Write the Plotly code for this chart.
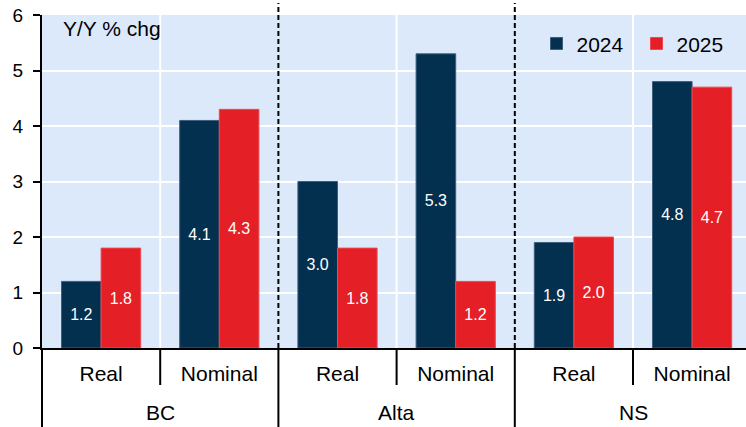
import plotly.graph_objects as go

# Provincial GDP outlook, year-over-year % change
provinces = ["BC", "Alta", "NS"]
measures = ["Real", "Nominal"]
years = ["2024", "2025"]
values_2024 = [1.2, 4.1, 3.0, 5.3, 1.9, 4.8]
values_2025 = [1.8, 4.3, 1.8, 1.2, 2.0, 4.7]

# one category per province/measure pair
cat_keys = [f"{p} {m}" for p in provinces for m in measures]
cat_text = [m for p in provinces for m in measures]

NAVY = "#03304F"
RED = "#E41F26"
BG = "#DCE9FB"
FONT = "Liberation Sans, Arial, sans-serif"

W, H = 746, 427
M_L, M_R, M_T, M_B = 42, 0, 15, 79
X_RANGE = [-0.5, 5.456]

fig = go.Figure()
for name, vals, color, edge in [
    (years[0], values_2024, NAVY, "#3E5E7C"),
    (years[1], values_2025, RED, "#EA4A50"),
]:
    fig.add_trace(go.Bar(
        name=name,
        x=cat_keys,
        y=vals,
        marker=dict(color=color, line=dict(color=edge, width=1)),
        texttemplate="%{y:.1f}",
        textposition="inside",
        insidetextanchor="middle",
        textangle=0,
        textfont=dict(color="white", size=16, family=FONT),
        hoverinfo="skip",
    ))


def xfrac(v):
    """Convert a category position to a fraction of the x-axis domain."""
    return (v - X_RANGE[0]) / (X_RANGE[1] - X_RANGE[0])


plot_h = H - M_T - M_B
below = -(M_B) / plot_h  # reach down to the bottom of the canvas

shapes = []
# white separators between Real and Nominal within each province
for b in [0.5, 2.5, 4.5]:
    shapes.append(dict(type="line", xref="x domain", yref="y domain",
                       x0=xfrac(b), x1=xfrac(b), y0=0, y1=1,
                       line=dict(color="white", width=2), layer="below"))
# short tick marks between the inner labels
for b in [0.5, 2.5, 4.5]:
    shapes.append(dict(type="line", xref="x domain", yref="paper",
                       x0=xfrac(b), x1=xfrac(b), y0=0, y1=-37 / plot_h,
                       line=dict(color="black", width=2)))
# long dividers between provinces (and left edge)
for b in [-0.5, 1.5, 3.5]:
    shapes.append(dict(type="line", xref="x domain", yref="paper",
                       x0=xfrac(b), x1=xfrac(b), y0=0, y1=below,
                       line=dict(color="black", width=2)))
# dashed province boundaries inside the plot
for b in [1.5, 3.5]:
    shapes.append(dict(type="line", xref="x domain", yref="paper",
                       x0=xfrac(b), x1=xfrac(b), y0=0, y1=1 + 12 / plot_h,
                       line=dict(color="black", width=2, dash="5px,3px")))

annotations = [dict(
    text="Y/Y % chg", xref="paper", yref="paper",
    x=(61 - M_L) / (W - M_L - M_R), y=1.0,
    xanchor="left", yanchor="top", showarrow=False,
    font=dict(size=21, family=FONT, color="black"),
)]
# province group labels under the measure labels
for i, p in enumerate(provinces):
    annotations.append(dict(
        text=p, xref="x domain", yref="paper",
        x=xfrac(2 * i + 0.5), y=-(412 - (H - M_B)) / plot_h,
        xanchor="center", yanchor="middle", showarrow=False,
        font=dict(size=21, family=FONT, color="black"),
    ))

fig.update_layout(
    width=W, height=H,
    margin=dict(l=M_L, r=M_R, t=M_T, b=M_B, pad=0),
    paper_bgcolor="white",
    plot_bgcolor=BG,
    barmode="group",
    bargap=0.33,
    bargroupgap=0,
    font=dict(family=FONT, size=21, color="black"),
    shapes=shapes,
    annotations=annotations,
    showlegend=True,
    legend=dict(
        orientation="h",
        x=(556 - 19.5 - M_L) / (W - M_L - M_R), xanchor="left",
        y=0.975, yanchor="top",
        bgcolor="rgba(0,0,0,0)",
        font=dict(size=21, family=FONT, color="black"),
        entrywidth=55, entrywidthmode="pixels",
        traceorder="normal",
    ),
)

fig.update_xaxes(
    type="category",
    range=X_RANGE,
    tickvals=cat_keys, ticktext=cat_text,
    showgrid=False,
    showline=True, linecolor="black", linewidth=2,
    ticks="outside", ticklen=6, tickcolor="rgba(0,0,0,0)",
    tickfont=dict(size=21, family=FONT, color="black"),
    zeroline=False,
)
fig.update_yaxes(
    range=[0, 6], dtick=1,
    showgrid=True, gridcolor="white", gridwidth=2,
    showline=True, linecolor="black", linewidth=2,
    ticks="outside", ticklen=7, tickcolor="black", tickwidth=2,
    ticklabelstandoff=6,
    tickfont=dict(size=19, family=FONT, color="black"),
    zeroline=False,
)

fig.write_html("out.html")
